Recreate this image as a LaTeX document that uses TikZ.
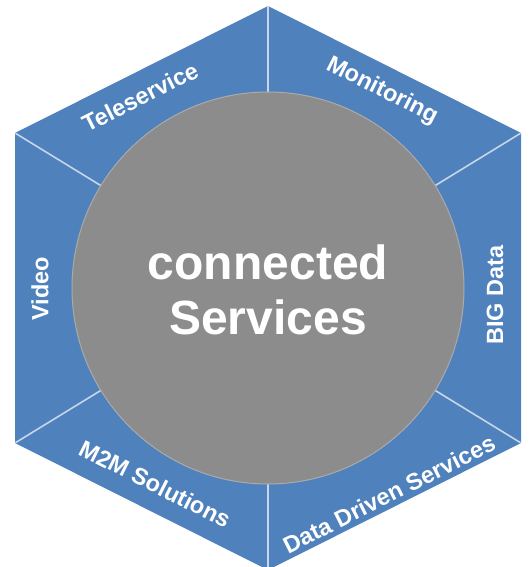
\documentclass[tikz,border=0pt]{standalone}
\usepackage{fontspec}
\setmainfont{Liberation Sans}
\definecolor{hexblue}{RGB}{79,129,189}
\definecolor{divline}{RGB}{200,214,234}
\definecolor{coregray}{RGB}{140,140,140}
\definecolor{coreedge}{RGB}{170,170,170}
\begin{document}
\begin{tikzpicture}[x=1pt,y=-1pt,
  seglabel/.style={text=white,font=\fontsize{23.5}{25}\selectfont\bfseries,inner sep=0pt},
  divider/.style={draw=divline,line width=1.6pt},
  corelabel/.style={text=white,align=center,font=\fontsize{48}{55}\selectfont\bfseries,inner sep=0pt}]
\useasboundingbox (0,0) rectangle (529,567);
\coordinate (T) at (268,6);
\coordinate (UR) at (521,133);
\coordinate (LR) at (521,443);
\coordinate (B) at (268,570);
\coordinate (LL) at (15,443);
\coordinate (UL) at (15,133);
\coordinate (C) at (268,288);
\fill[hexblue] (T) -- (UR) -- (LR) -- (B) -- (LL) -- (UL) -- cycle;
\foreach \v in {T,UR,LR,B,LL,UL} \draw[divider] (\v) -- (C);
\draw[fill=coregray,draw=coreedge,line width=1pt] (C) circle[radius=196];
\node[corelabel] (core) at (268,290) {connected\\Services};
\node[seglabel,rotate=26.7] (tele) at (140,97) {Teleservice};
\node[seglabel,rotate=-26.7] (moni) at (382,91) {Monitoring};
\node[seglabel,rotate=90] (big) at (495,295) {BIG Data};
\node[seglabel,rotate=90] (video) at (40,289) {Video};
\node[seglabel,rotate=-26.7] (m2m) at (155,484) {M2M Solutions};
\node[seglabel,rotate=26.7] (dds) at (389,494) {Data Driven Services};
\end{tikzpicture}
\end{document}
